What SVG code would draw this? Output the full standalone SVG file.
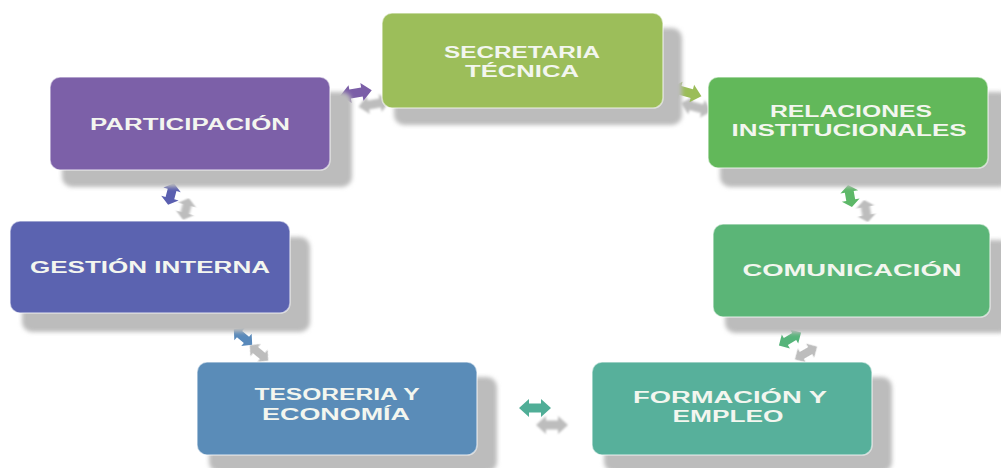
<svg xmlns="http://www.w3.org/2000/svg" width="1001" height="468" viewBox="0 0 1001 468">
<style>
  .shadow { fill: #bcbcbc; filter: url(#blur); }
  .box { stroke: #ffffff; stroke-opacity: 0.55; stroke-width: 1.6; }
  .lbl { font-family: "Liberation Sans", Arial, sans-serif; font-weight: 700; font-size: 16px; fill: #f3f6ef; text-anchor: middle; }
  .ash { fill: #bdbdbd; filter: url(#blur1); }
</style>
<defs>
  <filter id="blur" x="-10%" y="-20%" width="120%" height="140%"><feGaussianBlur stdDeviation="2"/></filter>
  <filter id="blur1" x="-30%" y="-30%" width="160%" height="160%"><feGaussianBlur stdDeviation="0.8"/></filter>
  <polygon id="dbl" points="-16,0 -6,-9 -6,-4.5 6,-4.5 6,-9 16,0 6,9 6,4.5 -6,4.5 -6,9"/>
</defs>
<rect width="1001" height="468" fill="#ffffff"/>

<g id="connectors">
  <g transform="translate(356,93) rotate(-10)"><use href="#dbl" class="ash" transform="translate(16,14)"/><use href="#dbl" fill="#7b5ea7"/></g>
  <g transform="translate(686,92) rotate(15)"><use href="#dbl" class="ash" transform="translate(14,12)"/><use href="#dbl" fill="#9bbd58"/></g>
  <g transform="translate(850,196)"><use href="#dbl" class="ash" transform="translate(16,15) rotate(80) scale(0.7,1)"/><use href="#dbl" fill="#5db868" transform="rotate(80) scale(0.7,1)"/></g>
  <g transform="translate(790,339)"><use href="#dbl" class="ash" transform="translate(16,14) rotate(-30) scale(0.8,0.9)"/><use href="#dbl" fill="#56b47a" transform="rotate(-30) scale(0.8,0.9)"/></g>
  <g transform="translate(535,408)"><use href="#dbl" class="ash" transform="translate(17,17)"/><use href="#dbl" fill="#50ae97"/></g>
  <g transform="translate(243,337)"><use href="#dbl" class="ash" transform="translate(16,16) rotate(40) scale(0.75,0.9)"/><use href="#dbl" fill="#5889bb" transform="rotate(40) scale(0.75,0.9)"/></g>
  <g transform="translate(171,194)"><use href="#dbl" class="ash" transform="translate(15,15) rotate(-75) scale(0.7,1)"/><use href="#dbl" fill="#5a5fb0" transform="rotate(-75) scale(0.7,1)"/></g>
</g>

<g id="secretaria">
  <rect class="shadow" x="394" y="28" width="288" height="97" rx="10"/>
  <rect class="box" x="382" y="13" width="281" height="95" rx="10" fill="#9cbe5a"/>
  <text class="lbl" x="522" y="58" textLength="156" lengthAdjust="spacingAndGlyphs">SECRETARIA</text>
  <text class="lbl" x="522" y="77" textLength="114" lengthAdjust="spacingAndGlyphs">TÉCNICA</text>
</g>

<g id="relaciones">
  <rect class="shadow" x="720" y="92" width="290" height="95" rx="10"/>
  <rect class="box" x="708" y="77" width="280" height="91" rx="10" fill="#62b85a"/>
  <text class="lbl" x="851" y="117" textLength="162" lengthAdjust="spacingAndGlyphs">RELACIONES</text>
  <text class="lbl" x="849" y="136" textLength="235" lengthAdjust="spacingAndGlyphs">INSTITUCIONALES</text>
</g>

<g id="comunicacion">
  <rect class="shadow" x="725" y="240" width="285" height="93" rx="10"/>
  <rect class="box" x="713" y="224" width="277" height="93" rx="10" fill="#5bb577"/>
  <text class="lbl" x="852" y="276" textLength="219" lengthAdjust="spacingAndGlyphs">COMUNICACIÓN</text>
</g>

<g id="formacion">
  <rect class="shadow" x="604" y="377" width="288" height="95" rx="10"/>
  <rect class="box" x="592" y="362" width="280" height="93" rx="10" fill="#57b09b"/>
  <text class="lbl" x="730" y="403" textLength="194" lengthAdjust="spacingAndGlyphs">FORMACIÓN Y</text>
  <text class="lbl" x="728" y="422" textLength="111" lengthAdjust="spacingAndGlyphs">EMPLEO</text>
</g>

<g id="tesoreria">
  <rect class="shadow" x="209" y="377" width="288" height="95" rx="10"/>
  <rect class="box" x="197" y="362" width="280" height="93" rx="10" fill="#5a8cb8"/>
  <text class="lbl" x="337" y="400" textLength="165" lengthAdjust="spacingAndGlyphs">TESORERIA Y</text>
  <text class="lbl" x="336" y="420" textLength="148" lengthAdjust="spacingAndGlyphs">ECONOMÍA</text>
</g>

<g id="gestion">
  <rect class="shadow" x="22" y="237" width="288" height="95" rx="10"/>
  <rect class="box" x="10" y="221" width="280" height="92" rx="10" fill="#5b63b0"/>
  <text class="lbl" x="150" y="273" textLength="240" lengthAdjust="spacingAndGlyphs">GESTIÓN INTERNA</text>
</g>

<g id="participacion">
  <rect class="shadow" x="62" y="92" width="290" height="95" rx="10"/>
  <rect class="box" x="50" y="77" width="280" height="93" rx="10" fill="#7c60a8"/>
  <text class="lbl" x="190" y="130" textLength="200" lengthAdjust="spacingAndGlyphs">PARTICIPACIÓN</text>
</g>
</svg>
